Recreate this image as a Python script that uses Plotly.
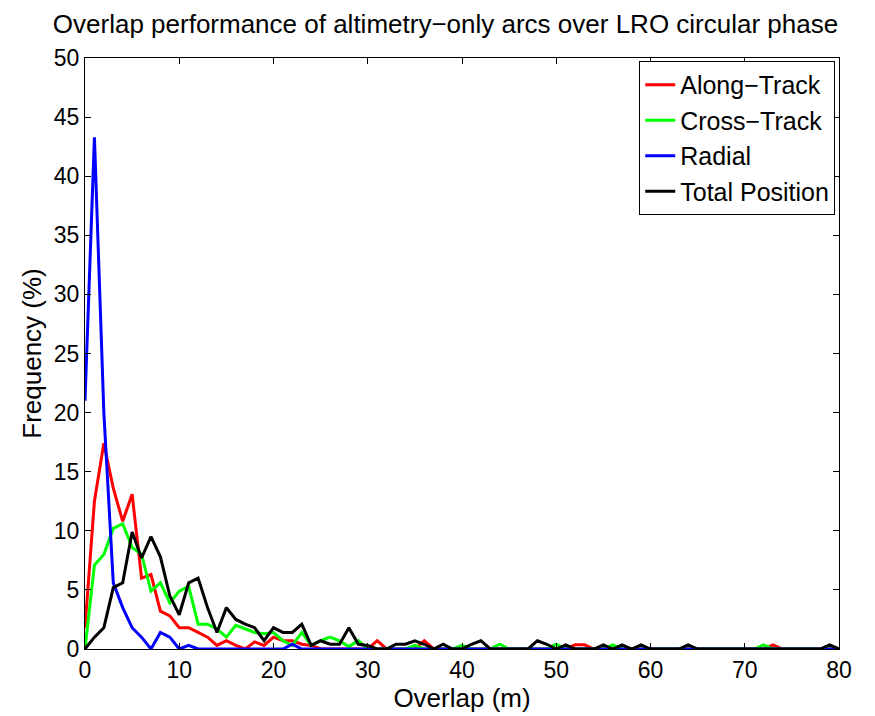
import plotly.graph_objects as go

x = list(range(81))

def fill(base, extra):
    arr = base + [0.0] * (81 - len(base))
    for k, v in extra.items():
        arr[k] = v
    return arr

along = fill([1.8, 12.5, 17.4, 13.6, 10.8, 13.1, 6.0, 6.3, 3.2, 2.8, 1.8, 1.8, 1.4, 1.0, 0.3, 0.7, 0.3, 0.0, 0.6, 0.3,
              1.0, 0.7, 0.7, 0.4, 0.3],
             {31: 0.7, 36: 0.7, 52: 0.35, 53: 0.35, 73: 0.35})
cross = fill([0.0, 7.1, 8.0, 10.2, 10.6, 8.6, 8.0, 4.9, 5.6, 3.9, 4.9, 5.3, 2.1, 2.1, 1.7, 1.0, 2.0, 1.7, 1.4, 1.3,
              1.4, 0.7, 0.3, 1.4, 0.3, 0.7, 1.0, 0.7, 0.2, 0.7],
             {35: 0.3, 40: 0.3, 44: 0.4, 50: 0.4, 56: 0.35, 72: 0.35})
radial = fill([21.0, 43.3, 20.0, 5.6, 3.5, 1.8, 1.0, 0.0, 1.4, 1.0, 0.0, 0.3],
              {22: 0.4})
total = fill([0.0, 1.0, 1.8, 5.2, 5.6, 9.9, 7.7, 9.5, 7.8, 4.5, 2.9, 5.6, 6.0, 3.5, 1.4, 3.5, 2.5, 2.1, 1.8, 0.7,
              1.8, 1.4, 1.4, 2.1, 0.3, 0.7, 0.4, 0.4, 1.8, 0.4, 0.3, 0.0, 0.0, 0.4, 0.4, 0.7, 0.4, 0.0, 0.4, 0.0,
              0.0, 0.4, 0.7],
             {48: 0.7, 49: 0.4, 51: 0.35, 55: 0.35, 57: 0.35, 59: 0.35, 64: 0.35, 79: 0.35})

series = [("Along−Track", along, "#ff0000"), ("Cross−Track", cross, "#00ff00"),
          ("Radial", radial, "#0000ff"), ("Total Position", total, "#000000")]

fig = go.Figure()
for name, y, c in series:
    fig.add_trace(go.Scatter(x=x, y=y, mode="lines", name=name, line=dict(color=c, width=3)))

ax = dict(showgrid=False, zeroline=False, showline=True, mirror="ticks", linecolor="black",
          linewidth=1, ticks="inside", ticklen=6, tickcolor="black", automargin=False,
          tickfont=dict(size=23, color="black"))
fig.update_layout(
    width=875, height=716, plot_bgcolor="white", paper_bgcolor="white",
    font=dict(family="Liberation Sans, Arial, sans-serif", color="black"),
    margin=dict(l=77, r=44, t=50, b=75),
    title=dict(text="Overlap performance of altimetry−only arcs over LRO circular phase",
               x=0.5, xanchor="center", y=0.99, yanchor="top", font=dict(size=26)),
    xaxis=dict(range=[0, 80], dtick=10, title=dict(text="Overlap (m)", font=dict(size=26), standoff=0), **ax),
    yaxis=dict(range=[0, 50], dtick=5, title=dict(text="Frequency (%)", font=dict(size=26), standoff=4), **ax),
    legend=dict(x=0.995, y=0.995, xanchor="right", yanchor="top", bordercolor="black", borderwidth=1,
                bgcolor="white", font=dict(size=25), tracegroupgap=0),
)
fig.write_html("out.html")
